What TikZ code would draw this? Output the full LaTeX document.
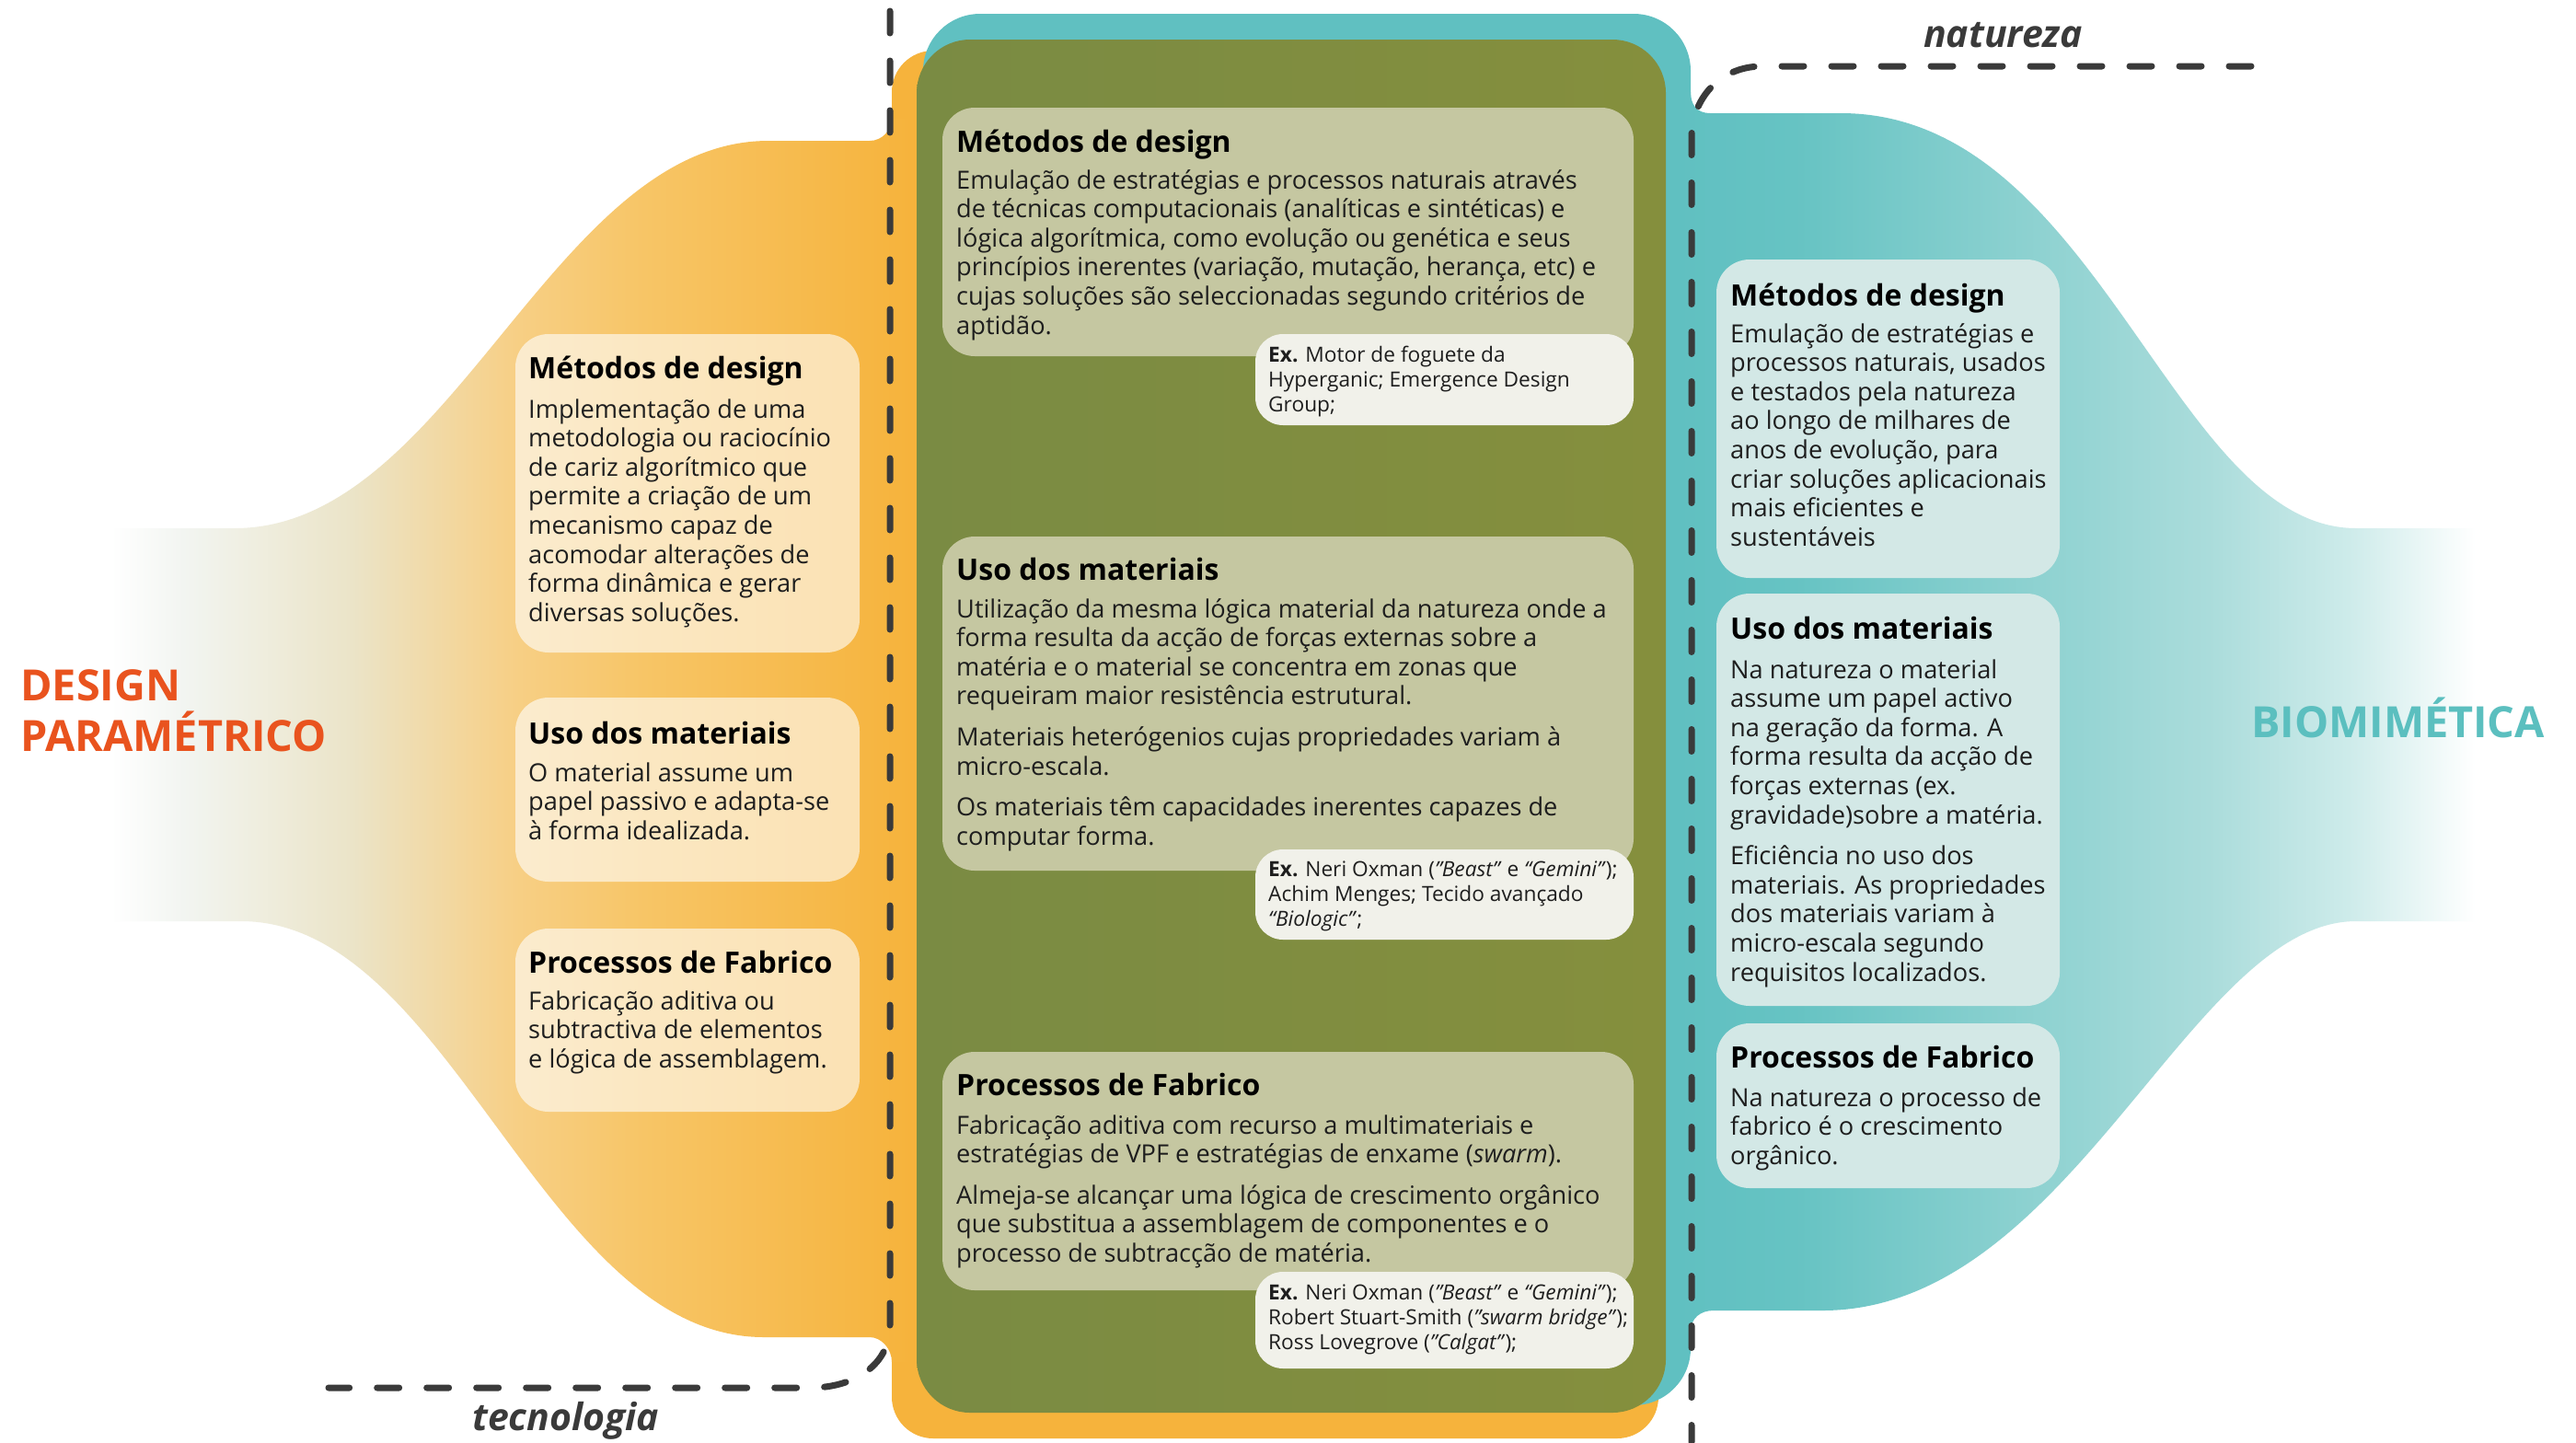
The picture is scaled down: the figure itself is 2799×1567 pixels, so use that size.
\documentclass[tikz,border=0pt]{standalone}
\usepackage{fontspec}
\setmainfont{Open Sans}
\definecolor{orangeC}{HTML}{F6B33C}
\definecolor{tealC}{HTML}{60C0C1}
\definecolor{greenL}{HTML}{7A8B43}
\definecolor{greenR}{HTML}{858F3D}
\definecolor{khakiC}{HTML}{C5C7A1}
\definecolor{exC}{HTML}{F1F1EA}
\definecolor{rboxC}{HTML}{D3E8E6}
\definecolor{dashC}{HTML}{3A3A3A}
\definecolor{bodyC}{HTML}{1E1E1E}
\definecolor{redC}{HTML}{E9531E}
\definecolor{tealT}{HTML}{5BBFBF}
\definecolor{og1}{HTML}{F2F5F1}
\definecolor{og2}{HTML}{EBE4C8}
\definecolor{og3}{HTML}{F7CF85}
\definecolor{og4}{HTML}{F7C566}
\definecolor{tg1}{HTML}{66C3C3}
\definecolor{tg2}{HTML}{8CD1D0}
\definecolor{tg3}{HTML}{AADCDB}
\definecolor{tg4}{HTML}{CDEBEA}
\pgfdeclarehorizontalshading{orangegrad}{100bp}{color(0bp)=(white); color(25bp)=(white); color(29.5bp)=(og1); color(40bp)=(og2); color(50.3bp)=(og3); color(58.3bp)=(og4); color(75bp)=(orangeC); color(100bp)=(orangeC)}
\pgfdeclarehorizontalshading{tealgrad}{100bp}{color(0bp)=(tealC); color(25bp)=(tealC); color(32.5bp)=(tg1); color(46.8bp)=(tg2); color(58.3bp)=(tg3); color(67bp)=(tg4); color(75bp)=(white); color(100bp)=(white)}
\newcommand{\pbx}[1]{\parbox[t]{900pt}{#1}}
\begin{document}
\begin{tikzpicture}[x=1pt,y=-1pt,
  body/.style={anchor=base west, inner sep=0pt, text=bodyC, font=\fontsize{27.2}{31.6}\selectfont},
  ttl/.style={anchor=base west, inner sep=0pt, text=black, font=\bfseries\fontsize{32}{38}\selectfont},
  extext/.style={anchor=base west, inner sep=0pt, text=bodyC, font=\fontsize{22.7}{27}\selectfont},
  headline/.style={anchor=base west, inner sep=0pt, font=\bfseries\fontsize{46.8}{55}\selectfont},
  sidelabel/.style={anchor=base west, inner sep=0pt, text=dashC, font=\bfseries\itshape\fontsize{41}{48}\selectfont},
  leftbox/.style={fill=white, fill opacity=0.6, rounded corners=36pt},
  midbox/.style={fill=khakiC, rounded corners=35pt},
  exbox/.style={fill=exC, rounded corners=30pt},
  rightbox/.style={fill=rboxC, rounded corners=36pt},
  dashline/.style={draw=dashC, line width=7pt, dash pattern=on 24pt off 30pt, line cap=round}
]
\useasboundingbox (0,0) rectangle (2799,1567);
\fill[white] (0,0) rectangle (2799,1567);

% orange column and band
\fill[orangeC, rounded corners=45pt] (969,55) rectangle (1802,1563);
\begin{scope}
\clip (121,574) -- (255,574) .. controls (490,574) and (600,153) .. (835,153) -- (945,153) .. controls (958,153) and (969,142) .. (969,129) -- (990,129) -- (990,1480) -- (969,1480) .. controls (969,1466) and (958,1453) .. (945,1453) -- (830,1453) .. controls (590,1453) and (490,1001) .. (262,1001) -- (121,1001) -- cycle;
\shade[shading=orangegrad] (121,0) rectangle (990,1567);
\end{scope}

% teal panel and band
\fill[tealC, rounded corners=62pt] (1003,15) rectangle (1837,1527);
\begin{scope}
\clip (1820,100) -- (1837,100) .. controls (1837,114) and (1844,123) .. (1858,123) -- (2000,123) .. controls (2280,123) and (2360,574) .. (2560,574) -- (2700,574) -- (2700,1001) -- (2560,1001) .. controls (2380,1001) and (2250,1424) .. (1980,1424) -- (1862,1424) .. controls (1848,1424) and (1837,1432) .. (1837,1447) -- (1820,1447) -- cycle;
\shade[shading=tealgrad] (1820,0) rectangle (2690,1567);
\end{scope}

% green panel
\shade[left color=greenL, right color=greenR, rounded corners=58pt] (996,43) rectangle (1810,1535);

% boxes
\fill[leftbox] (560,363) rectangle (934,709);
\fill[leftbox] (560,758) rectangle (934,958);
\fill[leftbox] (560,1009) rectangle (934,1208);
\fill[midbox] (1024,117) rectangle (1775,387);
\fill[midbox] (1024,583) rectangle (1775,946);
\fill[midbox] (1024,1143) rectangle (1775,1402);
\fill[exbox] (1364,363) rectangle (1775,462);
\fill[exbox] (1364,923) rectangle (1775,1021);
\fill[exbox] (1364,1382) rectangle (1775,1487);
\fill[rightbox] (1865,282) rectangle (2238,628);
\fill[rightbox] (1865,645) rectangle (2238,1093);
\fill[rightbox] (1865,1112) rectangle (2238,1291);

% dashed boundaries
\coordinate (tA) at (967,12);
\coordinate (tB) at (967,1440);
\coordinate (tC) at (880,1508);
\coordinate (tD) at (357,1508);
\draw[dashline] (tA) -- (tB) .. controls (967,1482) and (930,1508) .. (tC) -- (tD);
\coordinate (nA) at (2446,72);
\coordinate (nB) at (1915,72);
\coordinate (nC) at (1838,150);
\coordinate (nD) at (1838,1567);
\draw[dashline] (nA) -- (nB) .. controls (1868,72) and (1838,108) .. (nC) -- (nD);

% headlines
\node[headline, text=redC] (hdp) at (22,761) {\pbx{DESIGN\\PARAMÉTRICO}};
\node[headline, text=tealT] (hbio) at (2446,801) {BIOMIMÉTICA};
\node[sidelabel] (lnat) at (2090,51) {natureza};
\node[sidelabel] (ltec) at (513,1554) {tecnologia};

% left texts
\node[ttl] (l1t) at (574,411) {Métodos de design};
\node[body] (l1b) at (574,454) {\pbx{Implementação de uma\\metodologia ou raciocínio\\de cariz algorítmico que\\permite a criação de um\\mecanismo capaz de\\acomodar alterações de\\forma dinâmica e gerar\\diversas soluções.}};
\node[ttl] (l2t) at (574,808) {Uso dos materiais};
\node[body] (l2b) at (574,849) {\pbx{O material assume um\\papel passivo e adapta-se\\à forma idealizada.}};
\node[ttl] (l3t) at (574,1057) {Processos de Fabrico};
\node[body] (l3b) at (574,1097) {\pbx{Fabricação aditiva ou\\subtractiva de elementos\\e lógica de assemblagem.}};

% middle texts
\node[ttl] (m1t) at (1039,165) {Métodos de design};
\node[body] (m1b) at (1039,205) {\pbx{Emulação de estratégias e processos naturais através\\de técnicas computacionais (analíticas e sintéticas) e\\lógica algorítmica, como evolução ou genética e seus\\princípios inerentes (variação, mutação, herança, etc) e\\cujas soluções são seleccionadas segundo critérios de\\aptidão.}};
\node[extext] (e1) at (1378,393) {\pbx{\textbf{Ex.} Motor de foguete da\\Hyperganic; Emergence Design\\Group;}};
\node[ttl] (m2t) at (1039,630) {Uso dos materiais};
\node[body] (m2b) at (1039,671) {\pbx{Utilização da mesma lógica material da natureza onde a\\forma resulta da acção de forças externas sobre a\\matéria e o material se concentra em zonas que\\requeiram maior resistência estrutural.\\[13pt]Materiais heterógenios cujas propriedades variam à\\micro-escala.\\[13pt]Os materiais têm capacidades inerentes capazes de\\computar forma.}};
\node[extext] (e2) at (1378,952) {\pbx{\textbf{Ex.} Neri Oxman (\textit{"Beast”} e \textit{“Gemini”});\\Achim Menges; Tecido avançado\\\textit{“Biologic”};}};
\node[ttl] (m3t) at (1039,1190) {Processos de Fabrico};
\node[body] (m3b) at (1039,1232) {\pbx{Fabricação aditiva com recurso a multimateriais e\\estratégias de VPF e estratégias de enxame (\textit{swarm}).\\[13pt]Almeja-se alcançar uma lógica de crescimento orgânico\\que substitua a assemblagem de componentes e o\\processo de subtracção de matéria.}};
\node[extext] (e3) at (1378,1412) {\pbx{\textbf{Ex.} Neri Oxman (\textit{"Beast”} e \textit{“Gemini”});\\Robert Stuart-Smith (\textit{"swarm bridge”});\\Ross Lovegrove (\textit{"Calgat”});}};

% right texts
\node[ttl] (r1t) at (1880,332) {Métodos de design};
\node[body] (r1b) at (1880,372) {\pbx{Emulação de estratégias e\\processos naturais, usados\\e testados pela natureza\\ao longo de milhares de\\anos de evolução, para\\criar soluções aplicacionais\\mais eficientes e\\sustentáveis}};
\node[ttl] (r2t) at (1880,694) {Uso dos materiais};
\node[body] (r2b) at (1880,737) {\pbx{Na natureza o material\\assume um papel activo\\na geração da forma. A\\forma resulta da acção de\\forças externas (ex.\\gravidade)sobre a matéria.\\[13pt]Eficiência no uso dos\\materiais. As propriedades\\dos materiais variam à\\micro-escala segundo\\requisitos localizados.}};
\node[ttl] (r3t) at (1880,1160) {Processos de Fabrico};
\node[body] (r3b) at (1880,1202) {\pbx{Na natureza o processo de\\fabrico é o crescimento\\orgânico.}};
\end{tikzpicture}
\end{document}
